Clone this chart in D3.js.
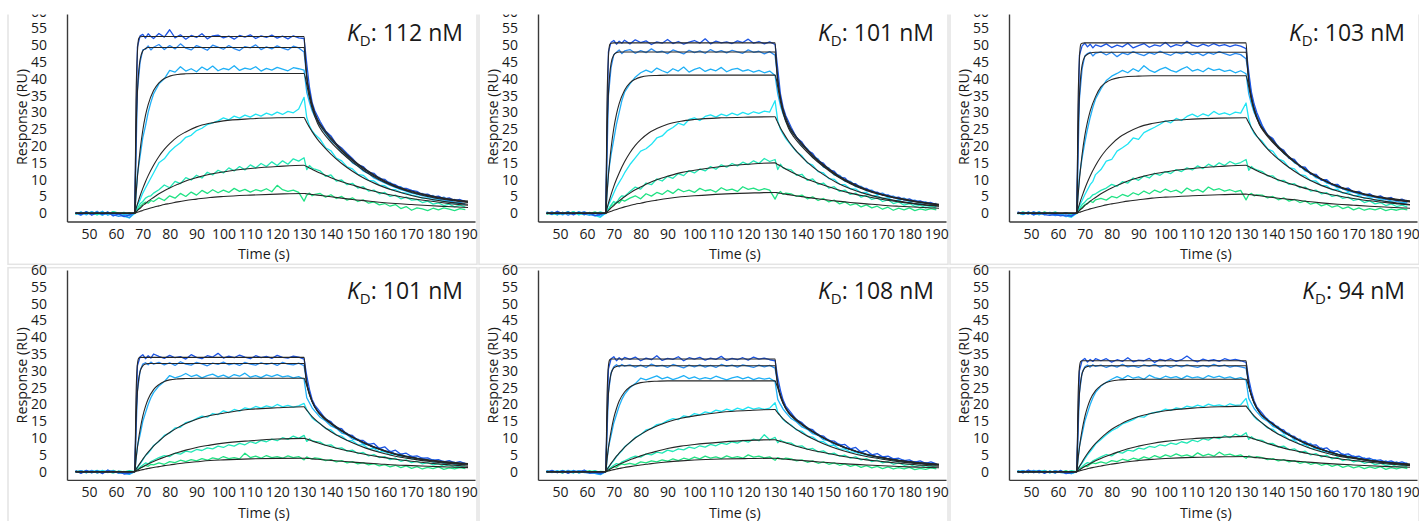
<!DOCTYPE html>
<html><head><meta charset="utf-8">
<script src="https://cdn.jsdelivr.net/npm/d3@7"></script>
<style>body{margin:0;background:#fff}svg{display:block}text{font-family:"Open Sans",sans-serif;fill:#1a1a1a}</style>
</head><body><svg id="c" width="1419" height="521"></svg>
<script>
const xTicks=[50,60,70,80,90,100,110,120,130,140,150,160,170,180,190];
const yTicks=[0,5,10,15,20,25,30,35,40,45,50,55,60];
const kdValues=["112","101","103","101","108","94"];
const seriesColors=["#1c55e4","#2a8cf2","#1fb0f6","#20e4f4","#22e8b6","#20e284"];
const tFit=[45,67,67.5,68,68.5,69,70,71,72,74,76,78,80,83,86,90,95,100,110,120,130,130.5,131,132,133,135,137,140,144,148,153,158,164,170,176,183,191];
const tData=[45,47,49,51,53,55,57,59,61,63,65,67,68,69,70,71,72,73,74,76,78,80,82,84,86,88,90,92,94,96,98,100,102,104,106,108,110,112,114,116,118,120,122,124,126,128,130,131,132,133,134,136,138,140,142,144,146,148,150,152,154,156,158,160,162,164,166,168,170,172,174,176,178,180,182,184,186,188,190];

const fitP1=[
[0,0,35,48,52,52.5,52.6,52.6,52.6,52.6,52.6,52.6,52.6,52.6,52.6,52.6,52.6,52.6,52.6,52.6,52.6,46,41,36,32.5,28,25.5,22.5,19,16,13,10.5,8.2,6.6,5.4,4.4,3.6],
[0,0,23.8,36.1,42.4,45.7,48.3,49,49.3,49.3,49.3,49.3,49.3,49.3,49.3,49.3,49.3,49.3,49.3,49.3,49.3,45,40.5,35.5,32,27.5,25,22,18.6,15.7,12.7,10.3,8,6.4,5.2,4.2,3.4],
[0,0,5.8,10.8,15.1,18.8,24.7,29.1,32.3,36.5,38.8,40.1,40.8,41.3,41.5,41.6,41.6,41.6,41.6,41.6,41.6,40.3,38.3,34.3,31.2,26.8,24.1,21.2,18,15.2,12.3,10,7.8,6.2,5,4,3.2],
[0,0,1.4,2.7,4,5.2,7.4,9.4,11.2,14.3,16.9,19,20.7,22.8,24.2,25.7,26.8,27.5,28.1,28.4,28.5,27.8,27,25.6,24.3,22,20.1,17.6,14.8,12.5,10.1,8.3,6.6,5.3,4.3,3.4,2.7],
[0,0,0.4,0.8,1.2,1.5,2.3,2.9,3.6,4.7,5.8,6.7,7.5,8.6,9.6,10.6,11.6,12.3,13.3,13.9,14.3,14.1,13.9,13.5,13.1,12.3,11.6,10.6,9.4,8.4,7.2,6.2,5.2,4.4,3.7,3,2.4],
[0,0,0.15,0.3,0.45,0.58,0.85,1.1,1.35,1.8,2.2,2.6,2.9,3.4,3.8,4.2,4.7,5,5.4,5.7,5.9,5.85,5.8,5.7,5.6,5.4,5.2,4.9,4.5,4.1,3.7,3.3,2.9,2.6,2.3,2,1.7]];
const dataP1=[
[0.3,-0.4,0.5,-0.6,0.2,-0.3,0.4,-0.8,-0.2,-1.0,-0.5,0.3,49.5,52.8,53.2,52.1,53.4,52.6,52.0,53.5,52.4,54.6,52.2,53.1,51.8,52.9,52.3,53.4,51.9,52.8,53.0,52.2,52.7,51.8,52.9,52.4,53.1,52.0,52.8,52.3,53.0,52.1,52.7,51.9,52.8,52.2,52.0,44.5,37.5,33.0,30.5,27.3,24.5,23.0,20.6,19.4,17.8,16.3,14.5,13.9,12.2,11.9,10.3,10.1,8.8,8.5,7.5,7.4,6.8,6.5,5.6,5.7,4.9,5.1,4.3,4.6,3.8,4.1,3.5],
[0.1,-0.6,0.2,-0.3,0.6,-0.5,0.0,-0.4,-0.9,-0.6,-1.3,0.2,36.5,45.0,48.6,48.8,49.8,48.6,49.4,50.2,48.7,49.9,48.9,50.4,49.1,48.6,49.9,49.3,48.5,50.0,49.4,48.8,49.9,49.0,48.4,49.6,49.2,50.1,48.7,49.5,48.9,49.8,49.1,48.6,49.7,49.2,48.0,40.5,35.0,31.5,29.5,26.4,24.3,22.1,20.5,18.5,17.4,15.6,14.6,13.0,12.5,11.0,10.7,9.3,9.2,7.8,7.9,6.7,6.8,5.7,5.9,4.9,5.3,4.3,4.8,3.7,4.1,3.3,3.6],
[-0.3,0.4,-0.5,0.5,-0.2,0.6,-0.6,0.2,-0.4,-0.2,-0.7,0.1,11.5,17.0,22.5,26.0,30.0,33.0,35.5,38.5,40.0,42.5,42.0,43.6,42.3,43.0,42.1,43.5,42.6,43.8,42.4,43.1,42.7,43.9,42.5,43.2,42.8,43.6,42.3,43.1,42.6,43.4,42.9,42.4,43.3,43.0,42.6,36.0,33.0,30.5,28.8,26.0,23.8,21.6,20.3,18.0,16.9,15.0,14.1,12.6,11.8,10.5,9.8,9.0,8.3,7.7,7.0,6.6,6.0,5.7,5.2,5.0,4.5,4.3,3.9,3.7,3.3,3.1,2.8],
[0.2,-0.2,0.3,-0.4,0.1,-0.6,0.4,-0.7,-0.3,-0.9,-1.4,0.0,2.5,4.0,6.0,7.5,9.0,10.5,12.0,15.0,16.2,18.3,19.8,21.0,22.6,23.2,24.6,25.3,26.4,26.9,27.5,28.4,27.8,28.9,28.3,29.2,28.6,29.5,28.9,29.8,29.2,30.1,29.4,30.3,29.9,31.0,34.5,28.5,26.0,24.5,23.5,22.0,19.5,18.6,16.4,15.6,13.8,13.2,11.6,11.3,9.8,9.6,8.4,8.2,7.1,7.0,6.2,6.0,5.4,5.1,4.5,4.6,3.9,4.0,3.4,3.5,2.9,3.1,2.6],
[-0.4,0.3,-0.2,0.4,-0.5,0.2,-0.3,0.5,-0.1,0.3,-0.4,0.1,1.5,2.8,3.5,4.5,5.0,5.2,6.0,7.0,8.4,7.6,9.5,8.8,10.6,9.9,11.3,10.5,12.2,11.4,12.8,12.0,13.5,12.6,13.9,12.9,14.4,13.5,14.8,13.9,15.3,14.2,15.6,14.6,16.2,15.5,16.5,13.0,14.2,13.4,13.1,12.6,11.0,11.4,9.6,9.9,8.5,8.9,7.5,7.9,6.6,6.9,5.8,6.2,5.0,5.4,4.3,4.8,3.9,4.1,3.2,3.6,2.7,3.1,2.3,2.7,1.9,2.4,1.8],
[0.2,-0.3,0.4,0.0,-0.4,0.3,-0.2,0.4,0.1,-0.3,0.2,-0.1,1.0,2.0,2.8,3.3,3.0,3.8,3.5,4.6,3.8,5.2,4.5,5.9,5.0,6.3,5.4,6.8,5.9,7.0,6.1,6.9,6.2,7.4,6.5,7.1,6.3,7.0,6.6,7.3,6.4,8.3,7.0,6.5,6.9,6.2,3.6,5.4,6.0,5.2,5.6,5.9,4.8,5.5,4.4,5.0,3.9,4.6,3.5,4.0,3.0,3.4,2.5,2.9,2.1,2.6,1.4,2.0,0.9,1.6,1.3,0.8,1.5,1.0,1.6,1.2,0.8,1.4,1.1]];

const fitP2=[
[0,0,34,46.5,50.2,50.6,50.7,50.7,50.7,50.7,50.7,50.7,50.7,50.7,50.7,50.7,50.7,50.7,50.7,50.7,50.7,45,40,34.5,31,26.5,23.8,20.8,17.3,14.5,11.5,9.2,7.1,5.6,4.5,3.5,2.7],
[0,0,24,35.5,41.5,44.6,47.1,47.8,48,48,48,48,48,48,48,48,48,48,48,48,48,43.8,39.2,34,30.2,25.9,23.3,20.4,17,14.2,11.3,9,7,5.5,4.4,3.4,2.6],
[0,0,6.1,11.3,15.7,19.4,25.3,29.5,32.6,36.6,38.8,39.9,40.5,40.9,41,41.1,41.1,41.1,41.1,41.1,41.1,39.8,37.6,33.2,29.8,25.3,22.7,19.8,16.6,13.9,11,8.8,6.8,5.4,4.3,3.3,2.5],
[0,0,1.5,3,4.3,5.6,8,10.1,12,15.3,18,20.2,21.9,23.9,25.2,26.5,27.4,27.9,28.4,28.6,28.7,27.9,27,25.4,24,21.5,19.4,16.7,13.8,11.5,9.1,7.3,5.7,4.5,3.6,2.8,2.2],
[0,0,0.4,0.8,1.2,1.6,2.3,3.1,3.7,4.9,6,7,7.8,9,10,11,12.1,12.8,13.9,14.6,15,14.8,14.5,14.1,13.6,12.7,11.9,10.8,9.5,8.4,7.1,6,5,4.1,3.4,2.7,2.1],
[0,0,0.15,0.3,0.45,0.6,0.9,1.15,1.4,1.9,2.3,2.7,3,3.5,3.9,4.4,4.9,5.2,5.7,6,6.2,6.15,6.1,5.95,5.8,5.55,5.3,4.95,4.5,4.1,3.6,3.2,2.8,2.4,2.1,1.8,1.5]];
const dataP2=[
[0.2,-0.3,0.6,-0.2,0.4,-0.5,0.3,-0.4,0.1,-0.7,-0.3,0.2,48.0,50.9,51.4,50.3,51.2,50.6,51.5,50.4,51.6,50.8,51.3,50.2,51.0,50.6,51.7,50.5,51.1,50.3,50.9,51.4,50.6,51.9,50.4,51.2,50.7,51.0,50.5,51.3,50.8,51.8,50.6,51.1,50.4,51.0,50.2,43.0,35.5,31.5,29.0,25.6,22.5,21.2,18.7,17.8,15.5,14.9,12.9,12.5,10.7,10.5,8.9,8.8,7.5,7.4,6.3,6.3,5.4,5.5,4.6,4.8,3.9,4.3,3.5,3.7,3.0,3.2,2.6],
[-0.2,0.4,-0.4,0.3,-0.6,0.2,-0.1,0.5,-0.3,-0.8,-0.4,0.1,35.0,43.5,47.2,47.9,48.6,47.5,48.3,48.7,47.6,48.4,47.8,48.9,47.9,48.2,47.5,48.6,48.0,47.4,48.5,47.8,48.3,47.6,48.7,47.9,48.4,47.7,48.5,48.0,47.6,48.6,47.9,48.2,47.4,48.1,47.0,40.0,34.0,30.5,28.0,24.7,22.6,20.5,19.2,16.9,16.2,14.0,13.5,11.8,11.3,9.8,9.5,8.2,8.0,6.9,6.9,5.8,6.0,5.0,5.1,4.3,4.5,3.7,3.9,3.2,3.4,2.7,2.9],
[0.4,-0.2,0.1,-0.5,0.3,-0.3,0.5,-0.2,-0.6,0.2,-0.9,0.0,12.0,17.5,22.0,26.5,30.0,33.5,36.0,38.5,40.5,41.8,42.6,41.9,43.2,42.4,41.8,43.0,42.3,43.5,42.0,42.8,43.3,42.2,42.9,42.4,43.4,42.1,42.8,43.1,42.3,42.7,42.0,42.5,41.8,42.3,41.0,35.5,32.0,29.5,27.5,24.3,22.6,20.1,19.0,16.6,15.8,13.7,13.2,11.4,11.0,9.5,9.3,7.9,7.8,6.7,6.7,5.6,5.8,4.8,4.9,4.1,4.3,3.5,3.7,3.0,3.2,2.5,2.7],
[-0.1,0.3,-0.4,0.2,-0.2,0.4,-0.5,0.1,-0.3,-0.6,-1.2,0.1,2.5,4.2,6.0,7.8,9.2,10.5,12.0,14.5,16.5,18.5,19.2,20.5,22.4,23.0,24.6,25.5,26.8,26.2,27.9,28.4,27.6,28.8,29.3,28.6,29.5,29.0,29.8,29.2,30.0,29.4,30.2,29.7,30.4,30.1,33.5,27.5,25.0,23.5,22.2,20.2,18.3,17.1,15.0,14.3,12.4,12.0,10.3,10.1,8.6,8.5,7.3,7.2,6.1,6.2,5.2,5.3,4.4,4.6,3.7,3.9,3.1,3.4,2.6,2.9,2.2,2.5,2.0],
[0.3,-0.4,0.2,-0.1,0.5,-0.3,0.2,-0.5,0.3,-0.2,0.4,-0.1,1.2,2.5,3.5,3.0,4.4,5.2,5.0,6.5,7.8,7.2,9.0,8.5,10.2,9.6,11.0,10.4,11.8,11.2,12.7,12.0,13.2,12.6,13.9,13.1,14.4,13.7,14.8,14.1,15.2,14.5,15.6,14.8,16.3,15.4,16.0,13.0,14.6,13.5,13.2,12.9,11.3,11.6,9.8,10.2,8.6,9.0,7.5,7.9,6.5,6.9,5.6,6.0,4.8,5.3,4.1,4.6,3.5,4.0,2.9,3.4,2.4,2.9,2.0,2.4,1.6,2.1,1.5],
[-0.3,0.1,-0.5,0.3,-0.2,0.5,-0.4,0.2,-0.1,0.4,-0.3,0.0,1.0,2.2,2.6,3.4,3.0,4.0,3.6,4.5,5.2,4.3,5.8,5.1,6.2,5.6,6.8,5.9,7.2,6.4,6.9,6.2,7.4,6.7,7.0,6.3,7.6,6.8,7.2,6.5,7.9,7.1,7.5,6.8,7.3,6.9,4.2,5.8,6.5,5.6,6.0,5.8,5.0,5.4,4.3,4.9,3.8,4.4,3.4,3.9,2.8,3.4,2.4,2.9,1.9,2.5,1.6,2.1,1.2,1.8,0.9,1.5,1.0,1.6,0.8,1.3,0.9,1.4,1.0]];

const fitP3=[
[0,0,33,46,50.3,50.6,50.7,50.7,50.7,50.7,50.7,50.7,50.7,50.7,50.7,50.7,50.7,50.7,50.7,50.7,50.7,44.5,39.5,34.5,31.2,26.8,24.4,21.6,18.3,15.5,12.6,10.3,8.1,6.6,5.4,4.5,3.7],
[0,0,23,34.8,40.9,44.1,46.6,47.3,47.7,47.9,47.9,47.9,47.9,47.9,47.9,47.9,47.9,47.9,47.9,47.9,47.9,43.6,39.2,34.2,30.8,26.5,24.1,21.3,18,15.3,12.4,10.1,8,6.5,5.3,4.3,3.5],
[0,0,5.3,10,14,17.5,23.1,27.2,30.4,34.7,37.6,39,39.8,40.4,40.7,40.8,40.9,40.9,40.9,40.9,40.9,39.6,37.6,33.7,30.6,26.3,23.8,21,17.9,15.2,12.4,10.1,8,6.4,5.2,4.2,3.4],
[0,0,1.4,2.7,4,5.1,7.3,9.3,11.1,14.2,16.8,18.9,20.6,22.7,24.1,25.6,26.7,27.4,28,28.3,28.4,27.7,26.9,25.5,24.2,21.9,20,17.5,14.8,12.5,10.1,8.3,6.6,5.3,4.3,3.4,2.6],
[0,0,0.4,0.8,1.2,1.5,2.3,2.9,3.6,4.7,5.8,6.7,7.5,8.6,9.6,10.6,11.6,12.3,13.3,13.9,14.3,14.1,13.9,13.5,13.1,12.3,11.6,10.6,9.4,8.4,7.2,6.2,5.2,4.4,3.7,3.1,2.5],
[0,0,0.14,0.28,0.42,0.55,0.8,1.05,1.3,1.7,2.1,2.5,2.8,3.2,3.6,4,4.5,4.8,5.2,5.5,5.7,5.65,5.6,5.5,5.4,5.2,5,4.7,4.3,4,3.5,3.1,2.7,2.4,2.1,1.8,1.5]];
const dataP3=[
[0.4,-0.2,0.3,-0.5,0.1,-0.4,-0.6,-0.3,-0.8,-0.5,-0.9,0.2,47.0,49.8,50.6,49.5,50.3,49.2,50.1,49.6,50.4,49.3,50.0,49.5,50.6,49.2,49.9,50.5,49.4,50.1,49.7,50.8,49.5,50.2,49.8,51.2,50.0,49.6,50.3,49.7,50.5,49.8,50.2,49.6,50.1,49.7,49.0,42.0,36.0,32.5,30.0,26.2,23.3,22.2,19.6,18.8,16.5,16.0,13.9,13.7,11.7,11.6,9.9,10.0,8.5,8.6,7.3,7.5,6.3,6.5,5.5,5.8,4.8,5.2,4.3,4.7,3.8,4.2,3.5],
[-0.1,0.3,-0.3,0.5,-0.4,0.2,-0.2,-0.7,-0.4,-1.0,-0.6,0.1,34.0,43.0,46.8,47.5,47.9,46.8,47.6,48.0,47.1,47.9,46.6,47.7,47.2,48.1,47.4,46.9,47.8,47.3,48.2,47.5,47.0,47.9,47.4,48.0,47.2,47.7,46.9,47.8,47.3,48.1,47.5,47.0,47.6,47.2,46.0,40.5,35.0,31.5,29.2,25.9,23.0,21.9,19.4,18.5,16.3,15.8,13.8,13.5,11.6,11.5,9.8,9.9,8.4,8.5,7.2,7.4,6.2,6.4,5.4,5.6,4.7,5.0,4.1,4.4,3.6,3.9,3.3],
[0.2,-0.4,0.4,-0.3,0.5,-0.5,0.3,-0.1,-0.5,0.2,-0.8,0.1,11.0,16.5,21.0,25.0,28.5,31.5,34.0,37.0,39.5,40.8,41.6,42.5,41.8,43.0,42.2,43.9,42.6,41.9,42.8,43.4,42.5,42.0,42.9,43.6,42.3,42.8,42.1,43.2,42.5,42.9,42.2,42.6,41.8,42.4,41.5,35.5,32.5,30.0,28.3,25.4,23.4,21.2,20.0,17.8,16.8,15.0,14.2,12.6,12.0,10.6,10.1,9.0,8.6,7.6,7.3,6.5,6.3,5.6,5.4,4.9,4.7,4.3,4.1,3.7,3.6,3.2,3.1],
[0.1,-0.3,0.2,-0.5,0.3,-0.2,0.2,-0.6,-0.2,-0.8,-1.2,0.0,2.2,3.8,5.5,7.0,8.5,9.5,11.5,13.0,15.5,16.0,18.5,19.5,20.6,22.4,22.0,24.0,24.8,25.6,26.5,27.5,26.9,28.2,27.6,28.8,29.5,28.7,29.6,29.0,30.3,29.4,29.9,29.3,30.1,29.8,32.8,28.0,25.3,23.8,22.8,21.4,19.2,18.4,16.2,15.5,13.6,13.2,11.5,11.2,9.7,9.6,8.2,8.2,7.0,7.1,6.0,6.1,5.2,5.3,4.4,4.6,3.8,4.0,3.3,3.5,2.8,3.1,2.5],
[-0.2,0.4,-0.1,0.3,-0.4,0.3,-0.2,0.4,-0.3,0.2,-0.5,0.0,1.4,2.6,3.3,4.2,4.6,5.5,5.8,6.8,7.5,8.6,8.0,9.4,9.0,10.5,9.8,11.1,10.5,11.9,11.3,12.4,11.8,13.0,12.4,13.5,12.9,14.1,13.3,14.6,13.8,15.0,14.2,15.4,14.6,15.1,16.0,12.8,13.9,13.2,12.9,12.4,11.1,11.1,9.7,9.8,8.6,8.8,7.6,7.8,6.6,6.9,5.8,6.1,5.0,5.4,4.4,4.8,3.8,4.2,3.2,3.7,2.8,3.2,2.3,2.8,2.0,2.4,1.8],
[0.1,-0.3,0.3,-0.1,-0.4,0.4,-0.2,0.2,-0.3,0.1,-0.5,0.0,0.9,1.8,2.5,3.0,3.6,3.2,4.0,4.4,3.9,5.0,4.6,5.6,5.0,6.1,5.5,6.6,5.8,6.9,6.2,7.2,6.4,6.9,6.0,7.5,6.6,7.1,6.3,7.8,6.9,7.3,6.6,7.0,6.4,6.8,4.0,5.5,5.9,5.2,5.5,5.4,4.6,5.0,4.0,4.6,3.6,4.1,3.2,3.7,2.7,3.2,2.2,2.7,1.8,2.3,1.4,1.9,1.0,1.6,0.9,1.4,1.0,1.5,0.8,1.2,0.9,1.3,1.0]];

const fitP4=[
[0,0,23,32,33.8,34,34,34,34,34,34,34,34,34,34,34,34,34,34,34,34,29.8,26.5,23.3,21,18.1,16.5,14.5,12.3,10.3,8.4,6.8,5.3,4.3,3.5,2.9,2.4],
[0,0,15.5,23.6,27.7,29.8,31.5,32,32.2,32.2,32.2,32.2,32.2,32.2,32.2,32.2,32.2,32.2,32.2,32.2,32.2,29.4,26.4,23.2,20.9,18,16.3,14.4,12.2,10.3,8.3,6.7,5.2,4.2,3.4,2.8,2.3],
[0,0,3.9,7.2,10.1,12.5,16.5,19.4,21.6,24.4,25.9,26.8,27.3,27.6,27.7,27.8,27.8,27.8,27.8,27.8,27.8,26.9,25.6,22.9,20.8,17.9,16.1,14.2,12,10.2,8.2,6.7,5.2,4.2,3.4,2.7,2.2],
[0,0,0.7,1.3,1.95,2.55,3.7,4.8,5.8,7.6,9.1,10.5,11.65,13.1,14.3,15.6,16.7,17.4,18.55,19,19.3,18.8,18.3,17.3,16.4,14.9,13.6,11.9,10.1,8.6,7,5.8,4.6,3.8,3.1,2.5,2],
[0,0,0.26,0.5,0.75,1,1.45,1.9,2.3,3.05,3.7,4.3,4.9,5.7,6.4,7.2,7.9,8.5,9.2,9.7,9.9,9.8,9.7,9.4,9.15,8.6,8.1,7.4,6.6,5.9,5.1,4.4,3.7,3.1,2.6,2.1,1.6],
[0,0,0.1,0.2,0.3,0.4,0.6,0.8,0.95,1.25,1.5,1.8,2,2.35,2.65,2.95,3.3,3.5,3.8,3.95,4,4,3.95,3.9,3.8,3.7,3.55,3.35,3.1,2.85,2.55,2.3,2,1.8,1.6,1.4,1.2]];
const dataP4=[
[0.3,-0.5,0.4,-0.3,0.2,-0.6,0.5,-0.2,0.1,-0.7,-0.4,0.2,31.5,34.2,34.8,33.6,34.5,33.8,35.0,34.3,33.7,34.6,33.9,34.2,33.5,34.8,34.0,33.6,34.5,34.1,35.2,33.8,34.4,33.9,34.7,34.1,33.6,34.5,33.9,34.3,33.7,34.6,34.0,33.8,34.4,34.1,33.5,28.5,24.5,21.5,19.8,17.8,15.6,14.9,13.0,12.8,11.0,10.8,9.3,9.3,8.1,8.4,6.9,7.4,5.9,6.4,5.2,5.5,4.5,4.7,4.0,4.1,3.4,3.6,2.9,3.3,2.6,3.0,2.4],
[-0.2,0.3,-0.3,0.4,-0.4,0.1,-0.2,0.3,-0.5,-0.3,-0.6,0.1,24.0,30.0,32.0,32.4,31.8,32.6,32.0,32.5,31.8,32.4,31.6,32.7,32.0,31.7,32.5,32.1,31.5,32.3,31.9,32.6,31.8,32.2,31.6,32.5,32.0,31.7,32.4,31.9,32.3,31.6,32.5,32.0,31.8,32.3,31.5,26.5,23.0,20.8,19.2,17.1,15.8,14.4,13.4,12.1,11.4,10.1,9.7,8.6,8.3,7.3,7.0,6.2,6.1,5.2,5.2,4.5,4.6,3.9,4.0,3.4,3.5,2.9,3.1,2.6,2.8,2.3,2.5],
[0.1,-0.3,0.2,-0.4,0.3,-0.2,0.4,-0.3,-0.1,-0.5,-0.8,0.0,7.5,11.0,15.0,17.5,20.0,22.0,23.5,25.5,26.8,28.6,27.9,28.4,29.2,28.3,28.8,27.9,28.6,29.0,28.2,28.7,28.0,28.9,28.4,29.3,28.1,28.6,28.0,28.8,28.3,28.9,28.2,28.5,27.9,28.3,27.5,22.0,20.5,19.0,18.0,16.2,15.1,13.6,12.9,11.5,11.0,9.7,9.4,8.2,8.0,7.0,6.8,6.0,5.9,5.1,5.1,4.4,4.4,3.8,3.9,3.3,3.4,2.9,3.0,2.5,2.7,2.2,2.4],
[-0.2,0.2,-0.4,0.3,-0.1,0.4,-0.3,0.2,-0.4,-0.2,-0.7,0.1,1.5,2.2,3.5,4.8,5.5,6.5,7.8,9.0,10.8,11.5,13.0,13.2,14.6,15.0,15.8,16.5,16.2,17.3,17.0,18.1,17.6,18.5,18.0,19.0,18.6,19.4,18.9,19.6,19.1,20.0,19.3,19.7,19.2,19.6,20.3,18.5,17.2,16.0,15.3,14.3,12.8,12.4,10.9,10.6,9.3,9.2,8.0,8.0,6.8,6.9,5.9,6.0,5.0,5.2,4.4,4.6,3.8,4.0,3.3,3.5,2.8,3.1,2.4,2.8,2.1,2.4,1.9],
[0.2,-0.3,0.3,-0.2,0.4,-0.3,0.1,-0.4,0.2,-0.1,0.3,0.0,0.8,1.4,2.0,2.6,2.3,3.0,3.4,4.2,4.8,4.5,5.5,5.2,6.1,5.8,6.6,6.3,7.1,6.8,7.6,7.2,8.0,7.6,8.4,8.0,8.9,8.4,9.3,8.9,9.7,9.2,10.1,9.6,10.6,9.9,10.8,9.0,9.8,9.2,9.0,8.8,7.8,8.0,6.9,7.1,6.1,6.4,5.4,5.7,4.7,5.1,4.2,4.5,3.6,4.0,3.1,3.5,2.7,3.1,2.3,2.7,2.0,2.3,1.6,2.0,1.3,1.7,1.2],
[-0.1,0.3,-0.3,0.2,-0.4,0.3,-0.2,0.4,-0.2,0.1,-0.4,0.0,0.5,1.1,1.4,1.9,1.6,2.2,2.0,2.6,2.2,3.0,2.7,3.4,3.0,3.6,3.2,3.9,3.4,4.1,3.7,4.5,3.9,4.2,3.8,5.5,4.2,4.6,4.0,4.8,4.2,4.5,4.0,4.7,4.2,4.5,3.5,4.4,4.0,3.8,4.1,3.9,3.3,3.6,2.9,3.3,2.6,3.0,2.3,2.7,2.0,2.4,1.7,2.1,1.4,1.9,1.2,1.7,1.0,1.5,0.8,1.3,0.9,1.4,0.7,1.1,0.8,1.2,0.9]];

const fitP5=[
[0,0,22.5,31.5,33.3,33.5,33.5,33.5,33.5,33.5,33.5,33.5,33.5,33.5,33.5,33.5,33.5,33.5,33.5,33.5,33.5,29.3,26,22.9,20.6,17.8,16.2,14.2,12,10.1,8.2,6.6,5.2,4.2,3.4,2.7,2.2],
[0,0,15.2,23.1,27.1,29.2,30.9,31.3,31.5,31.5,31.5,31.5,31.5,31.5,31.5,31.5,31.5,31.5,31.5,31.5,31.5,28.8,25.8,22.7,20.5,17.6,16,14.1,11.9,10.1,8.1,6.6,5.1,4.1,3.3,2.7,2.2],
[0,0,3.8,7,9.8,12.1,16,18.8,21,23.7,25.2,26,26.5,26.8,26.9,27,27,27,27,27,27,26.1,24.9,22.3,20.3,17.5,15.8,13.9,11.8,10,8.1,6.6,5.1,4.1,3.3,2.6,2.1],
[0,0,0.65,1.25,1.85,2.45,3.55,4.6,5.5,7.25,8.7,10,11.1,12.5,13.6,14.8,15.9,16.6,17.7,18.2,18.5,18,17.5,16.6,15.7,14.3,13.1,11.5,9.8,8.3,6.8,5.6,4.5,3.7,3,2.4,1.9],
[0,0,0.25,0.48,0.72,0.95,1.4,1.8,2.2,2.9,3.55,4.1,4.7,5.45,6.1,6.9,7.6,8.1,8.8,9.3,9.5,9.4,9.3,9,8.8,8.3,7.8,7.1,6.3,5.7,4.9,4.2,3.5,3,2.5,2,1.6],
[0,0,0.1,0.2,0.3,0.4,0.6,0.8,0.95,1.25,1.5,1.75,2,2.3,2.6,2.9,3.2,3.45,3.75,3.9,4,3.95,3.9,3.85,3.75,3.65,3.5,3.3,3.05,2.8,2.5,2.25,2,1.75,1.55,1.35,1.15]];
const dataP5=[
[-0.2,0.4,-0.3,0.3,-0.5,0.2,-0.1,0.5,-0.4,-0.2,-0.6,0.1,30.5,33.6,34.2,33.0,33.9,33.2,34.0,33.4,34.1,33.0,33.8,33.3,34.5,33.1,33.7,33.4,34.2,33.0,33.9,33.5,34.0,33.2,33.8,33.4,34.3,33.1,33.7,33.3,33.9,33.2,34.1,33.5,33.8,33.3,33.0,28.0,24.2,21.3,19.5,17.5,15.4,14.6,12.9,12.5,10.9,10.6,9.2,9.1,7.9,8.1,6.8,7.2,5.8,6.3,5.0,5.4,4.4,4.6,3.8,4.0,3.3,3.5,2.8,3.2,2.5,2.9,2.3],
[0.3,-0.2,0.2,-0.4,0.4,-0.3,0.3,-0.2,-0.5,-0.3,-0.7,0.1,23.5,29.5,31.2,31.8,31.2,31.9,31.4,31.8,31.1,31.7,31.0,32.0,31.3,31.6,31.0,31.9,31.4,30.9,31.7,31.2,31.8,31.1,31.6,31.0,31.9,31.3,31.7,31.1,31.8,31.4,31.0,31.7,31.2,31.6,30.8,26.0,22.6,20.4,18.9,16.8,15.5,14.1,13.2,11.9,11.2,9.9,9.5,8.4,8.2,7.1,6.9,6.1,6.0,5.1,5.1,4.4,4.5,3.8,3.9,3.3,3.4,2.8,3.0,2.5,2.7,2.2,2.4],
[-0.1,0.2,-0.3,0.3,-0.2,0.4,-0.4,0.1,-0.3,-0.5,-0.9,0.0,7.2,10.8,14.5,17.0,19.5,21.5,23.0,25.0,26.2,27.8,27.3,27.9,28.5,27.6,28.1,27.4,27.9,28.6,27.7,28.2,27.5,28.0,27.6,28.4,27.8,27.3,27.9,28.3,27.6,28.1,27.4,27.9,27.5,27.8,26.8,21.5,20.0,18.6,17.6,15.8,14.8,13.3,12.6,11.3,10.8,9.5,9.2,8.0,7.9,6.9,6.7,5.9,5.8,5.0,5.0,4.3,4.3,3.7,3.8,3.2,3.3,2.8,2.9,2.4,2.6,2.1,2.3],
[0.2,-0.3,0.3,-0.2,0.1,-0.4,0.3,-0.3,0.0,-0.5,-0.8,0.1,1.4,2.3,3.3,4.5,5.4,6.2,7.4,8.6,10.2,11.0,12.4,12.8,14.0,14.3,15.2,15.8,15.5,16.6,16.3,17.3,16.9,17.8,17.4,18.3,17.9,18.6,18.1,18.9,18.4,19.2,18.6,19.0,18.5,18.9,20.5,17.8,16.6,15.5,14.8,13.9,12.4,12.0,10.6,10.3,9.1,8.9,7.8,7.8,6.7,6.7,5.8,5.9,4.9,5.1,4.3,4.5,3.7,3.9,3.2,3.4,2.7,3.0,2.3,2.7,2.0,2.3,1.8],
[-0.3,0.2,-0.2,0.4,-0.3,0.2,-0.4,0.3,-0.1,0.3,-0.3,0.0,0.7,1.3,1.9,2.4,2.2,2.9,3.2,4.0,4.6,4.3,5.3,5.0,5.8,5.5,6.4,6.0,6.8,6.5,7.3,6.9,7.7,7.3,8.1,7.7,8.5,8.1,8.9,8.5,9.3,8.8,9.7,9.2,11.0,9.5,10.2,8.6,9.4,8.9,8.7,8.5,7.5,7.7,6.6,6.9,5.9,6.2,5.2,5.5,4.6,4.9,4.0,4.4,3.5,3.9,3.0,3.4,2.6,3.0,2.2,2.6,1.9,2.2,1.5,1.9,1.3,1.7,1.1],
[0.2,-0.2,0.1,-0.4,0.3,-0.3,0.2,-0.2,0.3,-0.4,0.1,0.0,0.4,1.0,1.5,1.3,1.9,2.3,2.1,2.5,2.1,2.9,2.6,3.2,2.9,3.5,3.1,3.8,3.3,4.0,3.6,4.3,3.8,4.6,4.0,4.4,3.9,4.7,4.1,4.5,4.0,5.0,4.3,4.6,4.1,4.4,3.4,4.2,3.9,3.7,4.0,3.8,3.2,3.5,2.8,3.2,2.5,2.9,2.2,2.6,1.9,2.3,1.6,2.0,1.3,1.8,1.1,1.6,0.9,1.4,0.8,1.2,0.8,1.3,0.6,1.0,0.7,1.1,0.8]];

const fitP6=[
[0,0,22,31,32.8,33,33,33,33,33,33,33,33,33,33,33,33,33,33,33,33,28.9,25.7,22.6,20.4,17.6,16,14.1,11.9,10,8.1,6.6,5.2,4.2,3.4,2.7,2.2],
[0,0,15.2,23.1,27.1,29.2,30.9,31.3,31.5,31.5,31.5,31.5,31.5,31.5,31.5,31.5,31.5,31.5,31.5,31.5,31.5,28.8,25.8,22.7,20.5,17.6,16,14.1,11.9,10.1,8.1,6.6,5.1,4.1,3.3,2.7,2.2],
[0,0,3.85,7.1,10,12.4,16.3,19.2,21.4,24.1,25.6,26.5,27,27.3,27.4,27.5,27.5,27.5,27.5,27.5,27.5,26.6,25.3,22.7,20.6,17.7,16,14.1,11.9,10.1,8.2,6.7,5.2,4.2,3.4,2.7,2.2],
[0,0,0.77,1.5,2.2,2.9,4.2,5.4,6.5,8.4,10,11.4,12.6,14,15.2,16.4,17.4,18.1,18.9,19.3,19.5,19,18.5,17.5,16.6,15.1,13.8,12.1,10.3,8.8,7.2,5.9,4.7,3.9,3.2,2.6,2.1],
[0,0,0.27,0.53,0.8,1.05,1.55,2,2.45,3.25,3.95,4.6,5.2,6,6.8,7.6,8.4,9,9.8,10.2,10.5,10.4,10.3,10,9.7,9.2,8.7,7.9,7,6.3,5.4,4.7,3.9,3.3,2.8,2.3,1.8],
[0,0,0.11,0.22,0.33,0.44,0.66,0.88,1.05,1.4,1.7,2,2.25,2.6,2.95,3.3,3.65,3.9,4.25,4.4,4.5,4.45,4.4,4.35,4.25,4.1,3.95,3.7,3.45,3.15,2.85,2.55,2.25,2,1.75,1.5,1.3]];
const dataP6=[
[0.2,-0.4,0.5,-0.3,0.3,-0.5,0.2,-0.4,0.4,-0.6,-0.3,0.1,30.0,33.1,33.7,32.6,33.4,32.8,33.6,33.0,33.6,32.6,33.3,32.8,33.9,32.7,33.2,33.0,33.7,32.5,33.4,33.0,33.6,32.8,33.3,34.4,33.2,32.7,33.5,33.0,33.3,32.8,33.6,33.1,33.4,33.0,32.5,27.6,23.9,21.1,19.3,17.4,15.3,14.5,12.8,12.4,10.8,10.5,9.1,9.0,7.8,8.0,6.7,7.1,5.8,6.2,5.0,5.3,4.4,4.6,3.8,4.0,3.3,3.5,2.8,3.2,2.5,2.9,2.3],
[-0.3,0.3,-0.2,0.4,-0.4,0.2,-0.3,0.3,-0.2,-0.5,-0.4,0.1,23.5,29.4,31.2,31.7,31.1,31.8,31.3,31.7,31.0,31.6,31.1,31.9,31.2,31.5,31.0,31.8,31.3,31.9,31.1,31.6,31.0,31.7,31.2,31.8,31.3,31.0,31.6,31.2,31.9,31.3,31.7,31.1,31.5,31.2,30.8,26.0,22.6,20.4,18.9,16.6,15.7,13.9,13.4,11.7,11.4,9.7,9.7,8.2,8.4,6.9,7.1,5.9,6.2,4.9,5.3,4.2,4.7,3.6,4.1,3.1,3.6,2.6,3.2,2.3,2.9,2.0,2.6],
[0.3,-0.2,0.2,-0.3,0.4,-0.2,0.1,-0.4,0.2,-0.3,-0.6,0.0,7.5,11.2,15.0,17.5,20.0,22.0,23.6,25.5,26.6,27.5,28.3,27.6,28.6,27.8,28.2,27.5,28.7,28.0,27.6,28.4,27.9,28.3,27.6,28.5,27.9,28.2,27.7,28.6,28.0,28.4,27.8,28.2,27.6,28.0,27.2,21.8,20.3,18.8,17.8,16.0,15.0,13.5,12.8,11.4,10.9,9.6,9.3,8.1,8.0,6.9,6.8,5.9,5.9,5.0,5.1,4.3,4.4,3.7,3.9,3.2,3.4,2.8,3.0,2.4,2.7,2.1,2.4],
[-0.1,0.3,-0.3,0.2,-0.2,0.3,-0.4,0.2,-0.3,-0.1,-0.6,0.1,1.6,2.5,3.8,5.0,6.0,7.0,8.2,9.6,11.0,12.2,13.0,14.2,14.8,15.5,16.4,16.2,17.3,17.6,17.9,18.6,18.2,19.0,18.7,19.5,19.1,19.8,19.3,20.1,19.6,19.9,19.4,20.2,19.7,19.9,21.8,18.8,17.5,16.3,15.5,14.5,13.0,12.6,11.1,10.8,9.5,9.3,8.1,8.1,6.9,7.0,6.0,6.1,5.1,5.3,4.5,4.7,3.9,4.1,3.4,3.6,2.9,3.2,2.5,2.9,2.2,2.5,2.0],
[0.2,-0.3,0.3,-0.1,0.3,-0.4,0.2,-0.3,0.1,-0.2,0.3,0.0,0.8,1.5,2.2,2.7,2.5,3.2,3.6,4.4,5.1,4.7,5.8,5.5,6.4,6.1,7.0,6.7,7.5,7.2,8.0,7.7,8.5,8.1,8.9,8.5,9.4,8.9,9.8,9.4,10.3,9.8,10.7,10.1,11.2,10.5,11.6,9.6,10.4,9.8,9.5,9.3,8.3,8.4,7.3,7.6,6.5,6.8,5.7,6.1,5.0,5.4,4.4,4.9,3.8,4.3,3.3,3.8,2.9,3.3,2.5,2.9,2.1,2.5,1.8,2.2,1.5,1.9,1.4],
[-0.2,0.2,-0.3,0.3,-0.1,0.4,-0.3,0.2,-0.2,0.3,-0.4,0.0,0.6,1.2,1.7,1.5,2.2,2.6,2.4,2.9,2.5,3.3,3.0,3.7,3.3,4.0,3.6,4.4,3.9,4.8,4.2,5.0,4.5,5.3,4.6,5.0,4.4,5.6,4.7,5.2,4.6,5.8,4.9,5.2,4.6,5.0,4.0,4.7,4.4,4.2,4.5,4.2,3.6,3.9,3.2,3.6,2.9,3.3,2.5,2.9,2.2,2.6,1.9,2.3,1.6,2.1,1.3,1.8,1.1,1.6,0.9,1.4,1.0,1.5,0.7,1.2,0.8,1.3,0.9]];

const panels=[
 {kd:kdValues[0],fit:fitP1,data:dataP1},
 {kd:kdValues[1],fit:fitP2,data:dataP2},
 {kd:kdValues[2],fit:fitP3,data:dataP3},
 {kd:kdValues[3],fit:fitP4,data:dataP4},
 {kd:kdValues[4],fit:fitP5,data:dataP5},
 {kd:kdValues[5],fit:fitP6,data:dataP6}];

const svg=d3.select("#c");
const W=469,H=255,colX=[8,479,950],rowY=[9.3,267.7];
const x=d3.scaleLinear().domain([41.8,193.6]).range([59,467]);
const y=d3.scaleLinear().domain([-2.45,60]).range([212.2,2.3]);
const TICK_FS="14px", TITLE_FS="14.3px";

panels.forEach((p,i)=>{
  const c=i%3,r=Math.floor(i/3);
  const g=svg.append("g").attr("transform",`translate(${colX[c]},${rowY[r]})`);
  g.append("rect").attr("x",0).attr("y",0).attr("width",W).attr("height",H)
    .attr("fill","none").attr("stroke","#e4e4e4").attr("stroke-width",1.5);
  const ax=g.append("g").attr("transform","translate(59,0)")
    .call(d3.axisLeft(y).tickValues(yTicks).tickSize(0).tickPadding(20));
  const bx=g.append("g").attr("transform","translate(0,212.2)")
    .call(d3.axisBottom(x).tickValues(xTicks).tickSize(0).tickPadding(7.2));
  [ax,bx].forEach(a=>{
    a.attr("font-size",TICK_FS).attr("font-family","'Open Sans',sans-serif");
    a.select(".domain").attr("stroke","#3a3a3a").attr("stroke-width",1.4);
    a.selectAll("text").attr("font-size",TICK_FS).style("font-size",TICK_FS).attr("fill","#1a1a1a");
  });
  g.append("text").attr("x",255.8).attr("y",250.2).attr("text-anchor","middle")
    .attr("font-size",TITLE_FS).style("font-size",TITLE_FS).text("Time (s)");
  g.append("text").attr("transform","translate(19,107.7) rotate(-90)").attr("text-anchor","middle")
    .attr("font-size",TITLE_FS).style("font-size",TITLE_FS).text("Response (RU)");
  const kd=g.append("text").attr("x",455).attr("y",31.4).attr("text-anchor","end").style("font-size","23px");
  kd.append("tspan").attr("font-style","italic").text("K");
  kd.append("tspan").attr("dy",5).style("font-size","15px").text("D");
  kd.append("tspan").attr("dy",-5).text(": "+p.kd+" nM");

  const dLine=d3.line().x((d,k)=>x(tData[k])).y(d=>y(d));
  for(let s=5;s>=0;s--){
    g.append("path").attr("d",dLine(p.data[s].slice(0,tData.length)))
      .attr("fill","none").attr("stroke",seriesColors[s]).attr("stroke-width",1.3).attr("stroke-linejoin","round");
  }
  const fLine=d3.line().x((d,k)=>x(tFit[k])).y(d=>y(d)).curve(d3.curveMonotoneX);
  for(let s=5;s>=0;s--){
    g.append("path").attr("d",fLine(p.fit[s].slice(0,tFit.length)))
      .attr("fill","none").attr("stroke","#262626").attr("stroke-width",1.1);
  }
});
svg.append("rect").attr("x",0).attr("y",0).attr("width",1419).attr("height",14.5).attr("fill","#fff");
</script></body></html>
